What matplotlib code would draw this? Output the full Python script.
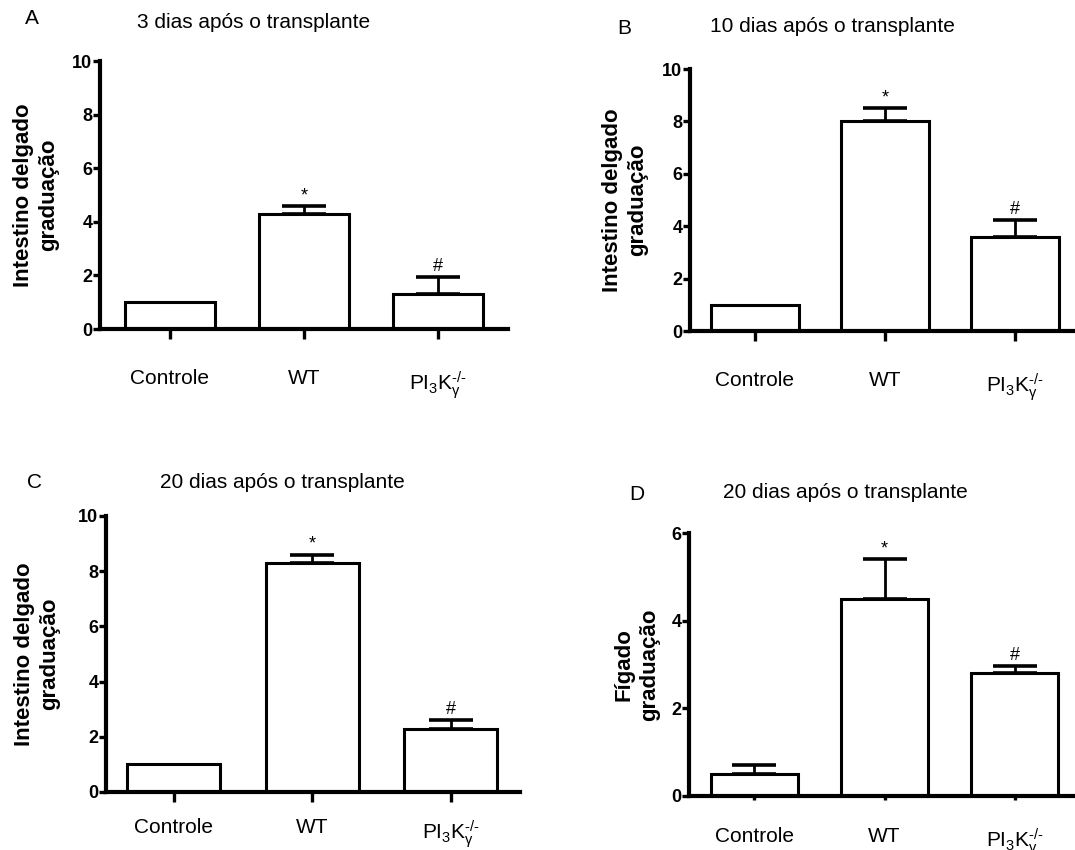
import numpy as np
import matplotlib
matplotlib.use('Agg')
import matplotlib.pyplot as plt

plt.rcParams['font.family'] = ['Liberation Sans', 'DejaVu Sans']

# data
groups = ['Controle', 'WT', r'$\mathregular{PI_3K_γ^{‐/‐}}$']
marks = ['', '*', '#']

a_means = [1.0, 4.3, 1.3]
a_err = [0.0, 0.3, 0.65]
b_means = [1.0, 8.0, 3.6]
b_err = [0.0, 0.5, 0.65]
c_means = [1.0, 8.3, 2.3]
c_err = [0.0, 0.3, 0.32]
d_means = [0.5, 4.5, 2.8]
d_err = [0.2, 0.9, 0.17]

W, H = 1075, 850
fig = plt.figure(figsize=(W / 100, H / 100), dpi=100)


def px_axes(x0, y_top, x1, y_zero):
    return fig.add_axes([x0 / W, 1 - y_zero / H, (x1 - x0) / W, (y_zero - y_top) / H])


def panel(ax, means, err, ymax, yticks, ylabel, xlim, label_x, xpad, xtick_len=7):
    x = np.arange(len(means))
    ax.bar(x, means, width=0.67, color='white', edgecolor='black', linewidth=2.2, zorder=2)
    for xi, m, e, mk in zip(x, means, err, marks):
        if e > 0:
            ax.errorbar(xi, m, yerr=[[0], [e]], fmt='none', ecolor='black',
                        elinewidth=2.0, capsize=16, capthick=2.6, zorder=3)
        if mk:
            ax.text(xi, m + e + ymax * 0.006, mk, ha='center', va='bottom', fontsize=13)
    ax.set_xlim(*xlim)
    ax.set_ylim(0, ymax)
    ax.set_yticks(yticks)
    ax.set_xticks(x)
    ax.set_xticklabels(groups, fontsize=15)
    for lab in ax.get_yticklabels():
        lab.set_fontweight('bold')
        lab.set_fontsize(13)
    ax.tick_params(axis='y', direction='out', length=5, width=2.4, pad=0.5)
    ax.tick_params(axis='x', direction='out', length=xtick_len, width=2.4,
                   pad=xpad + 7 - xtick_len)
    for s in ['top', 'right']:
        ax.spines[s].set_visible(False)
    for s in ['left', 'bottom']:
        ax.spines[s].set_linewidth(3.0)
        ax.spines[s].set_zorder(4)
    ax.set_ylabel(ylabel, fontsize=16, fontweight='bold', linespacing=1.3, va='center')
    pos = ax.get_position()
    ax.yaxis.set_label_coords((label_x / W - pos.x0) / pos.width, 0.5)
    ax.patch.set_alpha(0)


axA = px_axes(100, 61, 508, 329)
panel(axA, a_means, a_err, 10, [0, 2, 4, 6, 8, 10], 'Intestino delgado\ngraduação',
      (-0.52, 2.52), 36, 22)
axB = px_axes(690, 69, 1080, 331)
panel(axB, b_means, b_err, 10, [0, 2, 4, 6, 8, 10], 'Intestino delgado\ngraduação',
      (-0.5, 2.5), 625, 22)
axC = px_axes(106, 516, 520, 792)
panel(axC, c_means, c_err, 10, [0, 2, 4, 6, 8, 10], 'Intestino delgado\ngraduação',
      (-0.49, 2.5), 37, 12)
axD = px_axes(689, 533, 1080, 796)
panel(axD, d_means, d_err, 6, [0, 2, 4, 6], 'Fígado\ngraduação',
      (-0.5, 2.5), 637, 15, xtick_len=3)

titles = [('A', 32, 18, '3 dias após o transplante', 254, 22),
          ('B', 624, 28, '10 dias após o transplante', 832, 27),
          ('C', 35, 483, '20 dias após o transplante', 282, 483),
          ('D', 637, 494, '20 dias após o transplante', 845, 492)]
for letter, lx, ly, title, tx, ty in titles:
    fig.text(lx / W, 1 - ly / H, letter, ha='center', va='center', fontsize=15)
    fig.text(tx / W, 1 - ty / H, title, ha='center', va='center', fontsize=15)

fig.savefig('out.png', dpi=100)
